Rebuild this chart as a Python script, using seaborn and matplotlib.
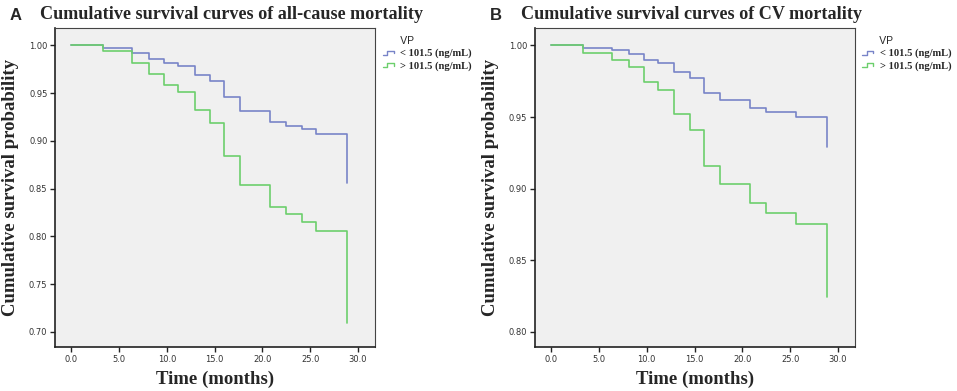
import numpy as np
import pandas as pd
import matplotlib
matplotlib.use("Agg")
import matplotlib.pyplot as plt
from matplotlib.legend_handler import HandlerBase
from matplotlib.lines import Line2D
import seaborn as sns

# event times (months), shared by both panels
TIMES = [0.0, 3.3, 6.4, 8.1, 9.7, 11.2, 12.9, 14.5, 16.0, 17.7, 20.8, 22.5, 24.1, 25.6, 28.9]

# panel A: all-cause mortality
A_LOW = [1.000, 0.9976, 0.9923, 0.986, 0.981, 0.978, 0.969, 0.963, 0.946, 0.931, 0.920, 0.916, 0.912, 0.907, 0.856]
A_HIGH = [1.000, 0.994, 0.982, 0.970, 0.958, 0.951, 0.932, 0.919, 0.884, 0.854, 0.831, 0.8235, 0.815, 0.806, 0.709]

# panel B: CV mortality
B_LOW = [1.000, 0.9984, 0.9965, 0.994, 0.990, 0.988, 0.9814, 0.977, 0.967, 0.962, 0.956, 0.9536, 0.9536, 0.950, 0.929]
B_HIGH = [1.000, 0.995, 0.990, 0.985, 0.9745, 0.969, 0.952, 0.941, 0.916, 0.903, 0.890, 0.883, 0.883, 0.8756, 0.8246]

GROUPS = ["< 101.5 (ng/mL)", "> 101.5 (ng/mL)"]
COLORS = {"< 101.5 (ng/mL)": "#7884c8", "> 101.5 (ng/mL)": "#6ccf6c"}

X_TICKS = [0, 5, 10, 15, 20, 25, 30]
A_YTICKS = [0.70, 0.75, 0.80, 0.85, 0.90, 0.95, 1.00]
B_YTICKS = [0.80, 0.85, 0.90, 0.95, 1.00]

SERIF = "Liberation Serif"
SANS = "Liberation Sans"


def make_df(low, high):
    rows = []
    for g, vals in zip(GROUPS, [low, high]):
        for t, s in zip(TIMES, vals):
            rows.append({"time": t, "surv": s, "group": g})
    return pd.DataFrame(rows)


class StepHandler(HandlerBase):
    # little step-shaped legend key, like SPSS survival plots
    def create_artists(self, legend, orig_handle, xdescent, ydescent, width, height, fontsize, trans):
        x = np.array([0, 0.35, 0.35, 0.8, 0.8]) * width - xdescent
        y = np.array([0.2, 0.2, 0.75, 0.75, 0.45]) * height - ydescent
        ln = Line2D(x, y, color=orig_handle.get_color(), lw=1.0)
        ln.set_transform(trans)
        return [ln]


def draw_panel(ax, df, yticks, ylim, letter, title, lx):
    sns.lineplot(data=df, x="time", y="surv", hue="group", palette=COLORS,
                 drawstyle="steps-post", estimator=None, sort=False,
                 linewidth=1.2, legend=False, ax=ax)
    ax.set_facecolor("#f0f0f0")
    ax.set_xlim(-1.7, 31.8)
    ax.set_ylim(*ylim)
    ax.set_xticks(X_TICKS)
    ax.set_xticklabels([f"{v:.1f}" for v in X_TICKS])
    ax.set_yticks(yticks)
    ax.set_yticklabels([f"{v:.2f}" for v in yticks])
    ax.tick_params(left=True, bottom=True, labelsize=6, colors="#222222", labelcolor="#333333",
                   length=3.5, width=1.0, pad=2, direction="out")
    for sp in ax.spines.values():
        sp.set_visible(True)
        sp.set_color("#444444")
        sp.set_linewidth(0.8)
    ax.spines["left"].set_color("#222222")
    ax.spines["bottom"].set_color("#222222")
    ax.spines["left"].set_linewidth(1.2)
    ax.spines["bottom"].set_linewidth(1.2)
    ax.grid(False)
    ax.set_xlabel("Time (months)", fontfamily=SERIF, fontweight="bold", fontsize=13.5, labelpad=5)
    ax.set_ylabel("Cumulative survival probability", fontfamily=SERIF, fontweight="bold",
                  fontsize=13.5, labelpad=7)

    handles = [Line2D([], [], color=COLORS[g]) for g in GROUPS]
    leg = ax.legend(handles, GROUPS, title="      VP", loc="upper left", bbox_to_anchor=(1.0, 1.0),
                    frameon=False, handler_map={Line2D: StepHandler()},
                    handlelength=1.3, handletextpad=0.4, borderaxespad=0.3, labelspacing=0.3,
                    alignment="left",
                    prop={"family": SERIF, "weight": "bold", "size": 7.6})
    leg.get_title().set_fontfamily(SANS)
    leg.get_title().set_fontsize(7.5)

    fig = ax.figure
    fig.text(lx, 0.96, letter, fontfamily=SANS, fontweight="bold", fontsize=12, va="center")
    fig.text(lx + 0.032, 0.962, title, fontfamily=SERIF, fontweight="bold", fontsize=13.1, va="center")


sns.set_style("white")
fig = plt.figure(figsize=(9.57, 3.91), dpi=100)
ax_a = fig.add_axes([0.0575, 0.1125, 0.3345, 0.8155])
ax_b = fig.add_axes([0.559, 0.1125, 0.3345, 0.8155])

draw_panel(ax_a, make_df(A_LOW, A_HIGH), A_YTICKS, (0.684, 1.018), "A",
           "Cumulative survival curves of all-cause mortality", 0.01)
draw_panel(ax_b, make_df(B_LOW, B_HIGH), B_YTICKS, (0.7895, 1.012), "B",
           "Cumulative survival curves of CV mortality", 0.512)

fig.savefig("out.png", dpi=100)
